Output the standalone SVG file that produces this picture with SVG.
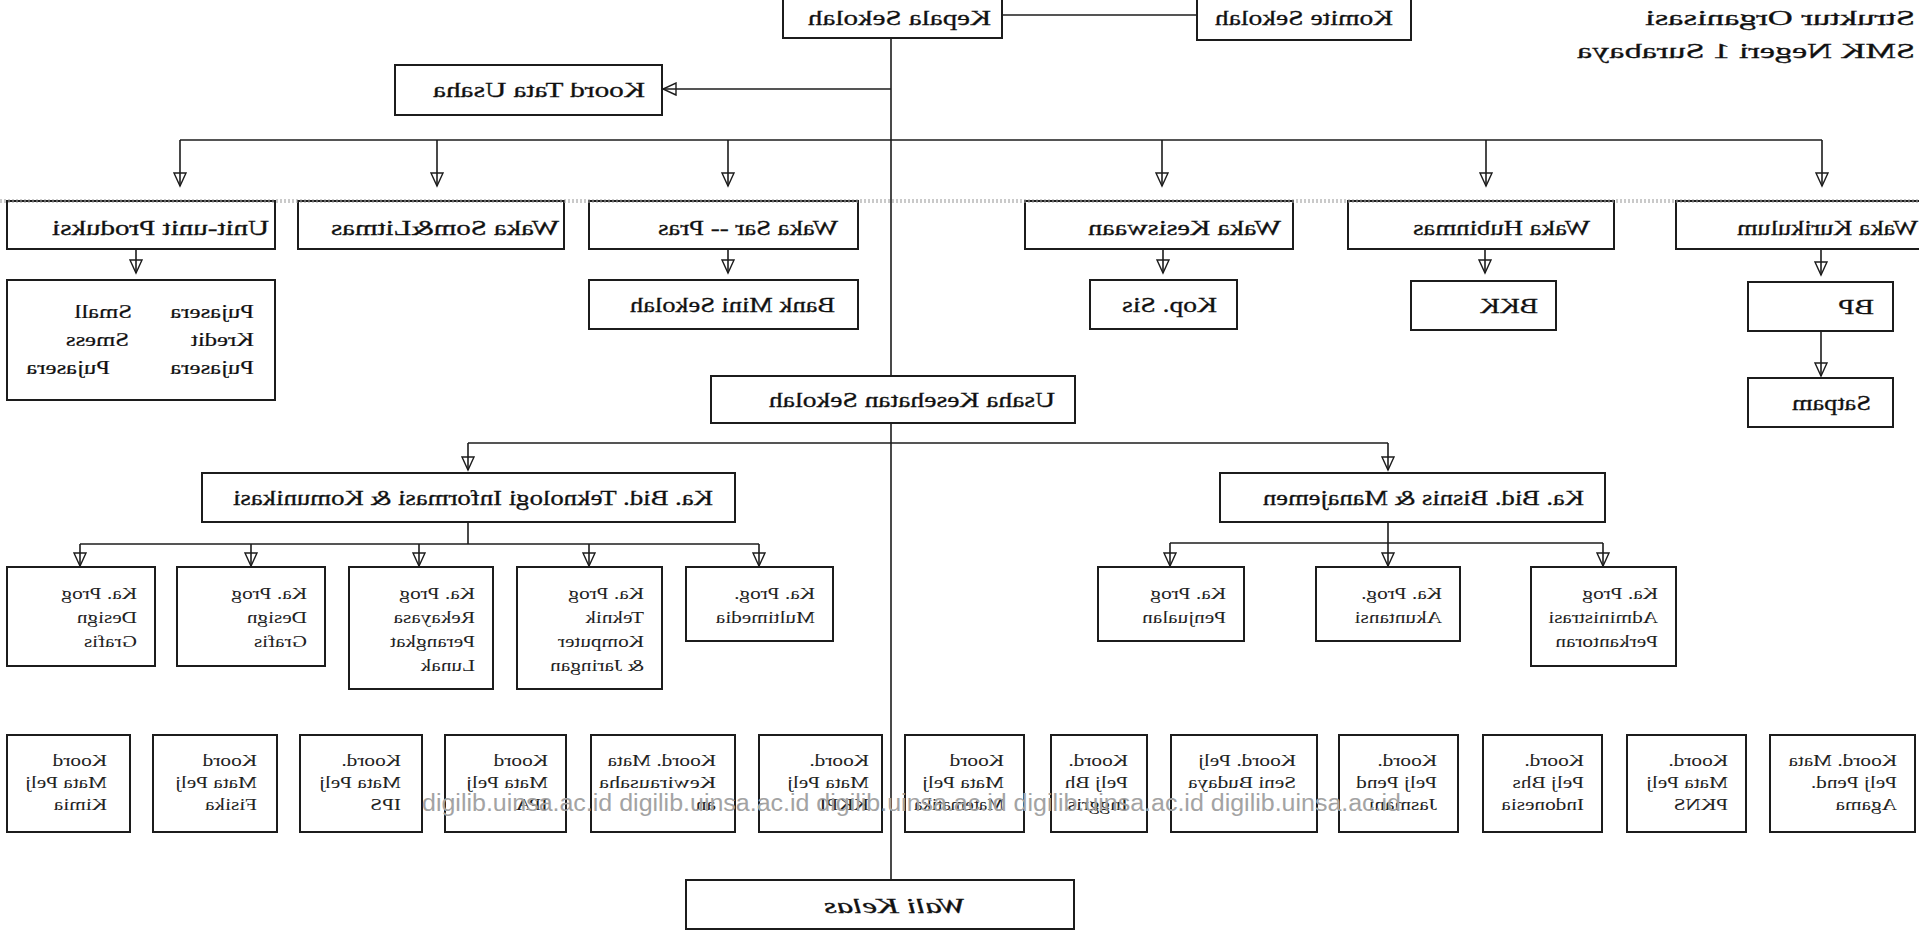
<svg xmlns="http://www.w3.org/2000/svg" width="1919" height="941" viewBox="0 0 1919 941">
<defs>
<style>
.b{fill:#fff;stroke:#1c1c1c;stroke-width:2}
.c{fill:none;stroke:#1c1c1c;stroke-width:1.6}
.t{font-family:"Liberation Serif",serif;font-size:22px;fill:#111;stroke:#111;stroke-width:0.3}
.m{font-family:"Liberation Serif",serif;font-size:19px;fill:#111;stroke:#111;stroke-width:0.2}
.s{font-family:"Liberation Serif",serif;font-size:17px;fill:#222}
.wm{font-family:"Liberation Sans",sans-serif;font-size:23px;fill:#a3a3a3}
</style>
<marker id="ah" markerUnits="userSpaceOnUse" markerWidth="16" markerHeight="14" refX="14" refY="7" orient="auto"><path d="M1,1 L14,7 L1,13 Z" fill="none" stroke="#1c1c1c" stroke-width="1.4"/></marker>
</defs>
<rect width="1919" height="941" fill="#fff"/>
<g id="connectors">
<line class="c" x1="1002" y1="15" x2="1197" y2="15"/>
<line class="c" x1="891" y1="38" x2="891" y2="880"/>
<line class="c" x1="891" y1="89" x2="663" y2="89" marker-end="url(#ah)"/>
<line class="c" x1="180" y1="140" x2="1822" y2="140"/>
<line class="c" x1="180" y1="140" x2="180" y2="186" marker-end="url(#ah)"/>
<line class="c" x1="437" y1="140" x2="437" y2="186" marker-end="url(#ah)"/>
<line class="c" x1="728" y1="140" x2="728" y2="186" marker-end="url(#ah)"/>
<line class="c" x1="1162" y1="140" x2="1162" y2="186" marker-end="url(#ah)"/>
<line class="c" x1="1486" y1="140" x2="1486" y2="186" marker-end="url(#ah)"/>
<line class="c" x1="1822" y1="140" x2="1822" y2="186" marker-end="url(#ah)"/>
<line class="c" x1="136" y1="249" x2="136" y2="273" marker-end="url(#ah)"/>
<line class="c" x1="728" y1="249" x2="728" y2="273" marker-end="url(#ah)"/>
<line class="c" x1="1163" y1="249" x2="1163" y2="273" marker-end="url(#ah)"/>
<line class="c" x1="1485" y1="249" x2="1485" y2="273" marker-end="url(#ah)"/>
<line class="c" x1="1821" y1="249" x2="1821" y2="275" marker-end="url(#ah)"/>
<line class="c" x1="1821" y1="329" x2="1821" y2="376" marker-end="url(#ah)"/>
<line class="c" x1="468" y1="443" x2="1388" y2="443"/>
<line class="c" x1="468" y1="443" x2="468" y2="470" marker-end="url(#ah)"/>
<line class="c" x1="1388" y1="443" x2="1388" y2="470" marker-end="url(#ah)"/>
<line class="c" x1="468" y1="522" x2="468" y2="544"/>
<line class="c" x1="80" y1="544" x2="759" y2="544"/>
<line class="c" x1="80" y1="544" x2="80" y2="566" marker-end="url(#ah)"/>
<line class="c" x1="251" y1="544" x2="251" y2="566" marker-end="url(#ah)"/>
<line class="c" x1="419" y1="544" x2="419" y2="566" marker-end="url(#ah)"/>
<line class="c" x1="589" y1="544" x2="589" y2="566" marker-end="url(#ah)"/>
<line class="c" x1="759" y1="544" x2="759" y2="566" marker-end="url(#ah)"/>
<line class="c" x1="1388" y1="522" x2="1388" y2="543"/>
<line class="c" x1="1170" y1="543" x2="1603" y2="543"/>
<line class="c" x1="1170" y1="543" x2="1170" y2="566" marker-end="url(#ah)"/>
<line class="c" x1="1388" y1="543" x2="1388" y2="566" marker-end="url(#ah)"/>
<line class="c" x1="1603" y1="543" x2="1603" y2="566" marker-end="url(#ah)"/>
</g>
<g id="title">
<text class="t" font-size="24" transform="matrix(-1 0 0 1 1915 25)" textLength="270" lengthAdjust="spacingAndGlyphs">Struktur Organisasi</text>
<text class="t" font-size="24" transform="matrix(-1 0 0 1 1915 58)" textLength="338" lengthAdjust="spacingAndGlyphs">SMK Negeri 1 Surabaya</text>
</g>
<g id="kepala"><rect class="b" x="783" y="-3" width="219" height="41"/><text class="t" transform="matrix(-1 0 0 1 991 25)" textLength="183" lengthAdjust="spacingAndGlyphs">Kepala Sekolah</text></g>
<g id="komite"><rect class="b" x="1197" y="-3" width="214" height="43"/><text class="t" transform="matrix(-1 0 0 1 1393 25)" textLength="178" lengthAdjust="spacingAndGlyphs">Komite Sekolah</text></g>
<g id="tata-usaha"><rect class="b" x="395" y="65" width="267" height="50"/><text class="t" transform="matrix(-1 0 0 1 645 97)" textLength="212" lengthAdjust="spacingAndGlyphs">Koord Tata Usaha</text></g>
<g id="unit-produksi"><rect class="b" x="7" y="201" width="268" height="48"/><text class="t" transform="matrix(-1 0 0 1 269 235)" textLength="217" lengthAdjust="spacingAndGlyphs">Unit-unit Produksi</text></g>
<g id="waka-som"><rect class="b" x="298" y="201" width="266" height="48"/><text class="t" transform="matrix(-1 0 0 1 559 235)" textLength="228" lengthAdjust="spacingAndGlyphs">Waka Som&amp;Litmas</text></g>
<g id="waka-sarpras"><rect class="b" x="589" y="201" width="269" height="48"/><text class="t" transform="matrix(-1 0 0 1 838 235)" textLength="180" lengthAdjust="spacingAndGlyphs">Waka Sar -- Pras</text></g>
<g id="waka-kesiswaan"><rect class="b" x="1025" y="201" width="268" height="48"/><text class="t" transform="matrix(-1 0 0 1 1281 235)" textLength="193" lengthAdjust="spacingAndGlyphs">Waka Kesiswaan</text></g>
<g id="waka-hubinmas"><rect class="b" x="1348" y="201" width="266" height="48"/><text class="t" transform="matrix(-1 0 0 1 1590 235)" textLength="177" lengthAdjust="spacingAndGlyphs">Waka Hubinmas</text></g>
<g id="waka-kurikulum"><rect class="b" x="1676" y="201" width="250" height="48"/><text class="t" transform="matrix(-1 0 0 1 1918 235)" textLength="181" lengthAdjust="spacingAndGlyphs">Waka Kurikulum</text></g>
<g id="unit-list"><rect class="b" x="7" y="280" width="268" height="120"/>
<text class="m" transform="matrix(-1.3 0 0 1 254 318)">Pujasera</text>
<text class="m" transform="matrix(-1.3 0 0 1 254 346)">Kredit</text>
<text class="m" transform="matrix(-1.3 0 0 1 254 374)">Pujasera</text>
<text class="m" transform="matrix(-1.3 0 0 1 132 318)">Small</text>
<text class="m" transform="matrix(-1.3 0 0 1 129 346)">Smess</text>
<text class="m" transform="matrix(-1.3 0 0 1 110 374)">Pujasera</text>
</g>
<g id="bank-mini"><rect class="b" x="589" y="280" width="269" height="49"/><text class="t" transform="matrix(-1 0 0 1 835 312)" textLength="205" lengthAdjust="spacingAndGlyphs">Bank Mini Sekolah</text></g>
<g id="kop-sis"><rect class="b" x="1090" y="280" width="147" height="49"/><text class="t" transform="matrix(-1 0 0 1 1217 312)" textLength="95" lengthAdjust="spacingAndGlyphs">Kop. Sis</text></g>
<g id="bkk"><rect class="b" x="1411" y="281" width="145" height="49"/><text class="t" transform="matrix(-1 0 0 1 1538 313)" textLength="58" lengthAdjust="spacingAndGlyphs">BKK</text></g>
<g id="bp"><rect class="b" x="1748" y="282" width="145" height="49"/><text class="t" transform="matrix(-1 0 0 1 1874 314)" textLength="36" lengthAdjust="spacingAndGlyphs">BP</text></g>
<g id="satpam"><rect class="b" x="1748" y="378" width="145" height="49"/><text class="t" transform="matrix(-1 0 0 1 1871 410)" textLength="79" lengthAdjust="spacingAndGlyphs">Satpam</text></g>
<g id="uks"><rect class="b" x="711" y="376" width="364" height="47"/><text class="t" transform="matrix(-1 0 0 1 1055 407)" textLength="286" lengthAdjust="spacingAndGlyphs">Usaha Kesehatan Sekolah</text></g>
<g id="kabid-tik"><rect class="b" x="202" y="473" width="533" height="49"/><text class="t" transform="matrix(-1 0 0 1 713 505)" textLength="480" lengthAdjust="spacingAndGlyphs">Ka. Bid. Teknologi Informasi &amp; Komunikasi</text></g>
<g id="kabid-bisnis"><rect class="b" x="1220" y="473" width="385" height="49"/><text class="t" transform="matrix(-1 0 0 1 1584 505)" textLength="321" lengthAdjust="spacingAndGlyphs">Ka. Bid. Bisnis &amp; Manajemen</text></g>
<g id="prog-dg1"><rect class="b" x="7" y="567" width="148" height="99"/>
<text class="s" transform="matrix(-1.25 0 0 1 137 599)">Ka. Prog</text><text class="s" transform="matrix(-1.25 0 0 1 137 623)">Design</text><text class="s" transform="matrix(-1.25 0 0 1 137 647)">Grafis</text></g>
<g id="prog-dg2"><rect class="b" x="177" y="567" width="148" height="99"/>
<text class="s" transform="matrix(-1.25 0 0 1 307 599)">Ka. Prog</text><text class="s" transform="matrix(-1.25 0 0 1 307 623)">Design</text><text class="s" transform="matrix(-1.25 0 0 1 307 647)">Grafis</text></g>
<g id="prog-rpl"><rect class="b" x="349" y="567" width="144" height="122"/>
<text class="s" transform="matrix(-1.25 0 0 1 475 599)">Ka. Prog</text><text class="s" transform="matrix(-1.25 0 0 1 475 623)">Rekayasa</text><text class="s" transform="matrix(-1.25 0 0 1 475 647)">Perangkat</text><text class="s" transform="matrix(-1.25 0 0 1 475 671)">Lunak</text></g>
<g id="prog-tkj"><rect class="b" x="517" y="567" width="145" height="122"/>
<text class="s" transform="matrix(-1.25 0 0 1 644 599)">Ka. Prog</text><text class="s" transform="matrix(-1.25 0 0 1 644 623)">Teknik</text><text class="s" transform="matrix(-1.25 0 0 1 644 647)">Komputer</text><text class="s" transform="matrix(-1.25 0 0 1 644 671)">&amp; Jaringan</text></g>
<g id="prog-mm"><rect class="b" x="686" y="567" width="147" height="74"/>
<text class="s" transform="matrix(-1.25 0 0 1 815 599)">Ka. Prog.</text><text class="s" transform="matrix(-1.25 0 0 1 815 623)">Multimedia</text></g>
<g id="prog-pj"><rect class="b" x="1098" y="567" width="146" height="74"/>
<text class="s" transform="matrix(-1.25 0 0 1 1226 599)">Ka. Prog</text><text class="s" transform="matrix(-1.25 0 0 1 1226 623)">Penjualan</text></g>
<g id="prog-ak"><rect class="b" x="1316" y="567" width="144" height="74"/>
<text class="s" transform="matrix(-1.25 0 0 1 1442 599)">Ka. Prog.</text><text class="s" transform="matrix(-1.25 0 0 1 1442 623)">Akuntansi</text></g>
<g id="prog-ap"><rect class="b" x="1531" y="567" width="145" height="99"/>
<text class="s" transform="matrix(-1.25 0 0 1 1658 599)">Ka. Prog</text><text class="s" transform="matrix(-1.25 0 0 1 1658 623)">Administrasi</text><text class="s" transform="matrix(-1.25 0 0 1 1658 647)">Perkantoran</text></g>
<g id="k-kimia"><rect class="b" x="7" y="735" width="123" height="97"/>
<text class="s" transform="matrix(-1.25 0 0 1 107 766)">Koord</text><text class="s" transform="matrix(-1.25 0 0 1 107 788)">Mata Pelj</text><text class="s" transform="matrix(-1.25 0 0 1 107 810)">Kimia</text></g>
<g id="k-fisika"><rect class="b" x="153" y="735" width="124" height="97"/>
<text class="s" transform="matrix(-1.25 0 0 1 257 766)">Koord</text><text class="s" transform="matrix(-1.25 0 0 1 257 788)">Mata Pelj</text><text class="s" transform="matrix(-1.25 0 0 1 257 810)">Fisika</text></g>
<g id="k-ips"><rect class="b" x="300" y="735" width="122" height="97"/>
<text class="s" transform="matrix(-1.25 0 0 1 401 766)">Koord.</text><text class="s" transform="matrix(-1.25 0 0 1 401 788)">Mata Pelj</text><text class="s" transform="matrix(-1.25 0 0 1 401 810)">IPS</text></g>
<g id="k-ipa"><rect class="b" x="445" y="735" width="121" height="97"/>
<text class="s" transform="matrix(-1.25 0 0 1 548 766)">Koord</text><text class="s" transform="matrix(-1.25 0 0 1 548 788)">Mata Pelj</text><text class="s" transform="matrix(-1.25 0 0 1 548 810)">IPA</text></g>
<g id="k-kwu"><rect class="b" x="591" y="735" width="144" height="97"/>
<text class="s" transform="matrix(-1.25 0 0 1 716 766)">Koord. Mata</text><text class="s" transform="matrix(-1 0 0 1 716 788)" textLength="117" lengthAdjust="spacingAndGlyphs">Kewirausaha</text><text class="s" transform="matrix(-1.25 0 0 1 716 810)">an</text></g>
<g id="k-kkpi"><rect class="b" x="759" y="735" width="123" height="97"/>
<text class="s" transform="matrix(-1.25 0 0 1 869 766)">Koord.</text><text class="s" transform="matrix(-1.25 0 0 1 869 788)">Mata Pelj</text><text class="s" transform="matrix(-1.25 0 0 1 869 810)">KKPI</text></g>
<g id="k-mtk"><rect class="b" x="905" y="735" width="119" height="97"/>
<text class="s" transform="matrix(-1.25 0 0 1 1004 766)">Koord</text><text class="s" transform="matrix(-1.25 0 0 1 1004 788)">Mata Pelj</text><text class="s" transform="matrix(-1 0 0 1 1004 810)" textLength="90" lengthAdjust="spacingAndGlyphs">Matematika</text></g>
<g id="k-bing"><rect class="b" x="1051" y="735" width="96" height="97"/>
<text class="s" transform="matrix(-1.25 0 0 1 1128 766)">Koord.</text><text class="s" transform="matrix(-1.25 0 0 1 1128 788)">Pelj Bh</text><text class="s" transform="matrix(-1.25 0 0 1 1128 810)">Inggris</text></g>
<g id="k-seni"><rect class="b" x="1171" y="735" width="146" height="97"/>
<text class="s" transform="matrix(-1.25 0 0 1 1296 766)">Koord. Pelj</text><text class="s" transform="matrix(-1.25 0 0 1 1296 788)">Seni Budaya</text></g>
<g id="k-penjas"><rect class="b" x="1339" y="735" width="119" height="97"/>
<text class="s" transform="matrix(-1.25 0 0 1 1437 766)">Koord.</text><text class="s" transform="matrix(-1.25 0 0 1 1437 788)">Pelj Pend</text><text class="s" transform="matrix(-1.25 0 0 1 1437 810)">Jasmani</text></g>
<g id="k-bindo"><rect class="b" x="1483" y="735" width="119" height="97"/>
<text class="s" transform="matrix(-1.25 0 0 1 1584 766)">Koord.</text><text class="s" transform="matrix(-1.25 0 0 1 1584 788)">Pelj Bhs</text><text class="s" transform="matrix(-1.25 0 0 1 1584 810)">Indonesia</text></g>
<g id="k-pkn"><rect class="b" x="1627" y="735" width="119" height="97"/>
<text class="s" transform="matrix(-1.25 0 0 1 1728 766)">Koord.</text><text class="s" transform="matrix(-1.25 0 0 1 1728 788)">Mata Pelj</text><text class="s" transform="matrix(-1.25 0 0 1 1728 810)">PKNS</text></g>
<g id="k-agama"><rect class="b" x="1770" y="735" width="145" height="97"/>
<text class="s" transform="matrix(-1.25 0 0 1 1897 766)">Koord. Mata</text><text class="s" transform="matrix(-1.25 0 0 1 1897 788)">Pelj Pend.</text><text class="s" transform="matrix(-1.25 0 0 1 1897 810)">Agama</text></g>
<g id="wali-kelas"><rect class="b" x="686" y="880" width="388" height="49"/><text class="t" font-style="italic" transform="matrix(-1 0 0 1 966 913)" textLength="142" lengthAdjust="spacingAndGlyphs">Wali Kelas</text></g>
<g id="scan-band"><line x1="0" y1="201" x2="1919" y2="201" stroke="#a0a0a0" stroke-width="4" stroke-dasharray="2 2" opacity="0.55"/></g>
<g id="watermark"><text class="wm" x="422" y="811" textLength="979" lengthAdjust="spacingAndGlyphs">digilib.uinsa.ac.id digilib.uinsa.ac.id digilib.uinsa.ac.id digilib.uinsa.ac.id digilib.uinsa.ac.id</text></g>
</svg>
